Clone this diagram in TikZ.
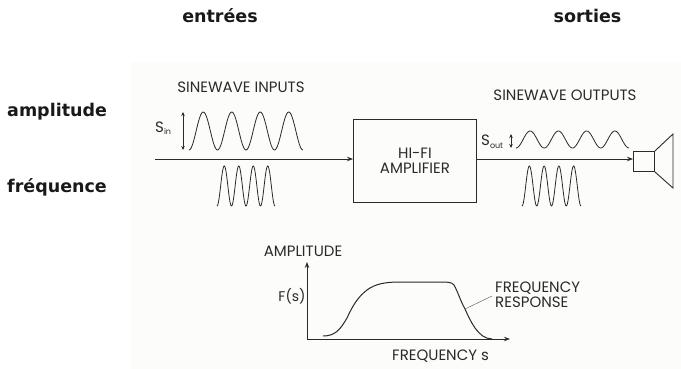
\documentclass[tikz,border=0pt]{standalone}
\usepackage{fontspec}
\setmainfont{Poppins}
\newfontfamily\labelfont{DejaVu Sans}
\usetikzlibrary{arrows.meta}
\definecolor{ink}{HTML}{2A2A2A}
\definecolor{paper}{HTML}{FCFCFA}
\tikzset{
  x=1pt,y=-1pt,
  bold label/.style={font=\labelfont\bfseries\fontsize{17.5}{20}\selectfont,text=black!90,inner sep=0pt},
  scan text/.style={font=\fontsize{15}{15.5}\selectfont,text=ink,inner sep=0pt,align=center},
  wave/.style={draw=ink,line width=0.8pt},
  line/.style={draw=ink,line width=0.9pt},
  arrowline/.style={line,-{Stealth[length=6pt,width=4.5pt]}},
  dblarrow/.style={draw=ink,line width=0.7pt,{Stealth[length=4pt,width=3.5pt]}-{Stealth[length=4pt,width=3.5pt]}},
}
% #1 x start, #2 period, #3 top y, #4 bottom y (four full periods, trough to trough)
\newcommand{\fourwaves}[4]{%
  \draw[wave] plot[domain=0:4,samples=120,smooth] ({#1+#2*\x},{(#3+#4)/2+(#4-#3)/2*cos(360*\x)});}
\begin{document}
\begin{tikzpicture}
\useasboundingbox (0,0) rectangle (681,369);
\fill[white] (0,0) rectangle (681,369);
\fill[paper] (131,62) rectangle (681,369);

\node[bold label,anchor=base] (entrees) at (220,23) {entrées};
\node[bold label,anchor=base] (sorties) at (587.5,23) {sorties};
\node[bold label,anchor=base west] (amp) at (7,117) {amplitude};
\node[bold label,anchor=base west] (freq) at (7,193) {fréquence};

\node[scan text] (inputs) at (241,87) {SINEWAVE INPUTS};
\node[scan text] (outputs) at (565,95) {SINEWAVE OUTPUTS};
\node[scan text,anchor=base west] (sin) at (155,132) {S\raisebox{-2pt}{\fontsize{8}{8}\selectfont in}};
\node[scan text,anchor=base west] (sout) at (481,146) {S\raisebox{-2pt}{\fontsize{8}{8}\selectfont out}};

\node[draw=ink,line width=0.9pt,minimum width=123pt,minimum height=83pt,inner sep=0pt,
      scan text,anchor=north west] (amplifier) at (353,119) {HI-FI\\AMPLIFIER};

% speaker
\node[draw=ink,line width=0.9pt,minimum width=21pt,minimum height=20pt,inner sep=0pt,anchor=north west] (driver) at (633,151) {};
\draw[line] (driver.north east) -- (673,134) -- (673,188) -- (driver.south east);

\coordinate (instart) at (155,159);
\draw[arrowline] (instart) -- (amplifier.west |- instart);
\draw[arrowline] (amplifier.east |- instart) -- (driver.west |- instart);

% amplitude marks
\coordinate (sintop) at (183,112); \coordinate (sinbot) at (183,150);
\draw[dblarrow] (sintop) -- (sinbot);
\coordinate (souttop) at (511,134); \coordinate (soutbot) at (511,148);
\draw[dblarrow] (souttop) -- (soutbot);

% waves
\fourwaves{189}{28.5}{112}{150}
\fourwaves{217}{14.5}{166}{206}
\fourwaves{516}{28.25}{131}{148}
\fourwaves{522}{14.75}{166}{206}

% response graph
\coordinate (origin) at (307,339);
\coordinate (ytip) at (307,262);
\coordinate (xtip) at (510,339);
\draw[arrowline] (origin) -- (ytip);
\draw[arrowline] (origin) -- (xtip);
\draw[draw=ink,line width=1pt] (323,336) .. controls (335,336) and (340,330) .. (347,318)
  .. controls (353,305) and (358,297) .. (367,290)
  .. controls (375,284) and (385,282) .. (400,282)
  -- (440,282) .. controls (447,282) and (452,282) .. (454,285)
  .. controls (458,292) and (460,300) .. (465,309)
  .. controls (470,320) and (478,339) .. (492,339);

\node[scan text] (ampaxis) at (303,251) {AMPLITUDE};
\node[scan text,font=\fontsize{14}{15}\selectfont] (fs) at (292,296) {F(s)};
\node[scan text,anchor=west,align=left] (resp) at (495,295) {FREQUENCY\\RESPONSE};
\node[scan text,anchor=west] (faxis) at (392,356) {FREQUENCY s};
\coordinate (curvept) at (465,309);
\draw[draw=ink!70,line width=0.5pt] (curvept) -- (492,296);
\end{tikzpicture}
\end{document}
